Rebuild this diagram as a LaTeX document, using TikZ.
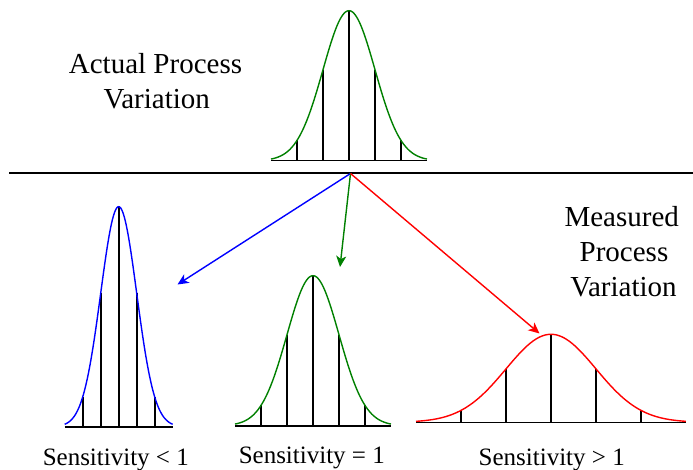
\documentclass[tikz,border=0pt]{standalone}
\usepackage{fontspec}
\setmainfont{LiberationSerif}[Extension=.ttf, UprightFont=*-Regular, BoldFont=*-Bold]
\usetikzlibrary{arrows.meta}
\definecolor{dgreen}{RGB}{0,128,0}
\tikzset{
  bigtext/.style={font=\rmfamily\fontsize{29}{34}\selectfont, inner sep=0pt, anchor=base},
  labeltext/.style={font=\rmfamily\fontsize{25}{30}\selectfont, inner sep=0pt, anchor=base},
  curveline/.style={line width=1.4pt},
  tickline/.style={line width=1.6pt, black},
  arrowline/.style={line width=1.4pt, -{Stealth[length=11pt, width=10pt, inset=3pt]}},
}
% #1 center x, #2 baseline y, #3 sigma, #4 height, #5 colour
\newcommand\bellcurve[5]{%
  \draw[tickline] ({#1-3*#3},#2) -- ({#1+3*#3},#2);
  \foreach \k in {-2,-1,0,1,2}{
    \draw[tickline] ({#1+\k*#3},#2) -- ({#1+\k*#3},{#2-#4*exp(-\k*\k/2)});
  }
  \draw[curveline,#5] plot[domain=-3:3, samples=121, smooth] ({#1+#3*\x},{#2-#4*exp(-\x*\x/2)});
}
\begin{document}
\begin{tikzpicture}[x=1pt,y=-1pt]
\useasboundingbox (0,0) rectangle (693,470);
% top actual distribution
\bellcurve{349}{160.7}{26}{150}{dgreen}
% separator
\coordinate (sepL) at (9,172.7);
\coordinate (sepR) at (693,172.7);
\draw[line width=2pt] (sepL) -- (sepR);
% measured distributions
\bellcurve{118.7}{426.7}{18}{220}{blue}
\bellcurve{313}{425.7}{26}{150}{dgreen}
\bellcurve{551}{422.3}{45}{88}{red}
% arrows
\coordinate (src) at (350.5,173.5);
\coordinate (tipB) at (177.5,284.5);
\coordinate (tipG) at (340,267);
\coordinate (tipR) at (539.5,333.5);
\draw[arrowline, blue] (src) -- (tipB);
\draw[arrowline, dgreen] (src) -- (tipG);
\draw[arrowline, red] (src) -- (tipR);
% texts
\node[bigtext] (act1) at (155.5,73.3) {Actual Process};
\node[bigtext] (act2) at (156.7,108.3) {Variation};
\node[bigtext] (mea1) at (621.7,226.7) {Measured};
\node[bigtext] (mea2) at (624,261.7) {Process};
\node[bigtext] (mea3) at (623.5,296.7) {Variation};
\node[labeltext] (sl) at (115.8,465.5) {Sensitivity < 1};
\node[labeltext] (se) at (311.8,463) {Sensitivity = 1};
\node[labeltext] (sg) at (551.7,465.5) {Sensitivity > 1};
\end{tikzpicture}
\end{document}
